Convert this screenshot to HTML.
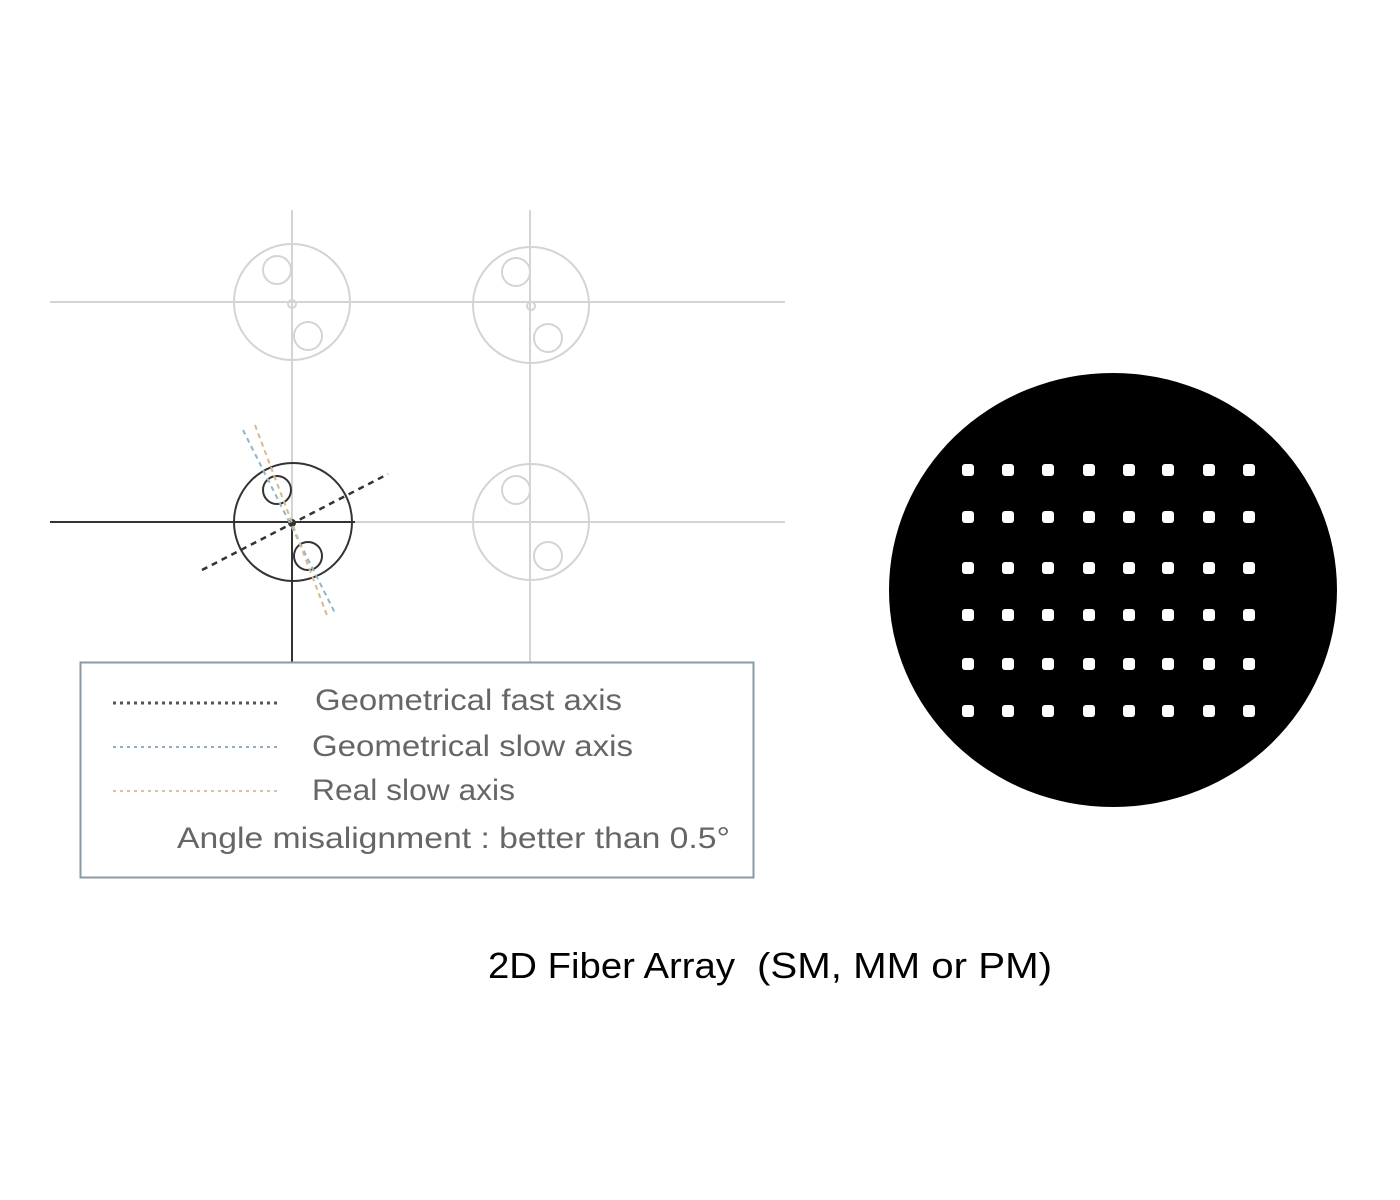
<!DOCTYPE html>
<html><head><meta charset="utf-8"><style>html,body{margin:0;padding:0;background:#fff}svg{display:block}</style></head>
<body>
<svg width="1400" height="1200" viewBox="0 0 1400 1200" xmlns="http://www.w3.org/2000/svg" font-family="Liberation Sans, DejaVu Sans, sans-serif">
<rect width="1400" height="1200" fill="#fff"/>
<g stroke="#d4d4d4" stroke-width="2" fill="none">
<line x1="50" y1="302" x2="785" y2="302"/>
<line x1="300" y1="522" x2="785" y2="522"/>
<line x1="292" y1="210" x2="292" y2="522"/>
<line x1="530" y1="210" x2="530" y2="662"/>
<circle cx="292" cy="302" r="58"/><circle cx="277" cy="270" r="14"/><circle cx="308" cy="336" r="14"/><circle cx="292" cy="304" r="4"/>
<circle cx="531" cy="305" r="58"/><circle cx="516" cy="272" r="14"/><circle cx="548" cy="338" r="14"/><circle cx="531" cy="306" r="4"/>
<circle cx="531" cy="522" r="58"/><circle cx="516" cy="490" r="14"/><circle cx="548" cy="556" r="14"/>
</g>
<g stroke="#333" stroke-width="2" fill="none">
<line x1="50" y1="522" x2="355" y2="522"/>
<line x1="292" y1="522" x2="292" y2="662"/>
<circle cx="293" cy="522" r="59"/><circle cx="277" cy="490" r="14"/><circle cx="308" cy="556" r="14"/>
</g>
<circle cx="292" cy="523" r="4" fill="#333"/>
<line x1="243" y1="430" x2="336" y2="615" stroke="#8fb6c8" stroke-width="2" stroke-dasharray="5,4"/>
<line x1="255" y1="425" x2="328" y2="618" stroke="#d8b98a" stroke-width="2" stroke-dasharray="5,4"/>
<line x1="202" y1="570" x2="388" y2="474" stroke="#333" stroke-width="2.5" stroke-dasharray="6,5"/>
<rect x="80.5" y="662.5" width="673" height="215" fill="none" stroke="#8a9aa6" stroke-width="2"/>
<line x1="113" y1="703" x2="280" y2="703" stroke="#555" stroke-width="3" stroke-dasharray="3,4"/>
<line x1="113" y1="747" x2="280" y2="747" stroke="#8fb0c0" stroke-width="2" stroke-dasharray="3,4"/>
<line x1="113" y1="791" x2="280" y2="791" stroke="#d8c39a" stroke-width="2" stroke-dasharray="3,4"/>
<g fill="#666" font-size="30">
<text x="315" y="710" textLength="307" lengthAdjust="spacingAndGlyphs">Geometrical fast axis</text>
<text x="312" y="756" textLength="321" lengthAdjust="spacingAndGlyphs">Geometrical slow axis</text>
<text x="312" y="800" textLength="203" lengthAdjust="spacingAndGlyphs">Real slow axis</text>
<text x="177" y="848" textLength="553" lengthAdjust="spacingAndGlyphs">Angle misalignment : better than 0.5°</text>
</g>
<ellipse cx="1113" cy="590" rx="224" ry="217" fill="#000"/>
<g fill="#fff">
<g id="r"><rect x="962" y="464" width="12" height="12" rx="3"/><rect x="1002" y="464" width="12" height="12" rx="3"/><rect x="1042" y="464" width="12" height="12" rx="3"/><rect x="1083" y="464" width="12" height="12" rx="3"/><rect x="1123" y="464" width="12" height="12" rx="3"/><rect x="1162" y="464" width="12" height="12" rx="3"/><rect x="1203" y="464" width="12" height="12" rx="3"/><rect x="1243" y="464" width="12" height="12" rx="3"/></g>
<use href="#r" y="47"/><use href="#r" y="98"/><use href="#r" y="145"/><use href="#r" y="194"/><use href="#r" y="241"/>
</g>
<text x="488" y="978" font-size="36" fill="#000" textLength="247" lengthAdjust="spacingAndGlyphs">2D Fiber Array</text>
<text x="757" y="978" font-size="36" fill="#000" textLength="295" lengthAdjust="spacingAndGlyphs">(SM, MM or PM)</text>
</svg>
</body></html>
